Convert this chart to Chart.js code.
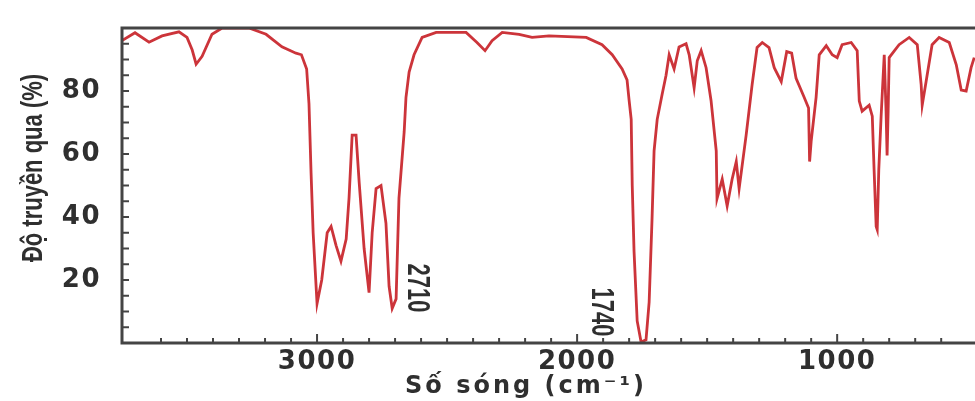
<!DOCTYPE html>
<html>
<head>
<meta charset="utf-8">
<script src="https://cdn.jsdelivr.net/npm/chart.js@4.4.1/dist/chart.umd.min.js"></script>
<style>
	html, body { margin: 0; padding: 0; background: #fff; }
</style>
</head>
<body>
<canvas id="ir" width="975" height="401"></canvas>
<script>
// IR spectrum (wavenumber in cm-1, left to right)
const wavenumbers = [
	3750, 3700, 3646, 3596, 3531, 3500, 3480, 3465, 3442, 3404, 3365, 3262, 3196, 3135, 3081,
	3060, 3040, 3031, 3023, 3015, 3000, 2982, 2961, 2946, 2927, 2908, 2888, 2877, 2865, 2850,
	2838, 2819, 2800, 2788, 2773, 2754, 2735, 2723, 2711, 2696, 2685, 2665, 2658, 2646, 2627,
	2596, 2542, 2427, 2385, 2354, 2327, 2288, 2223, 2173, 2108, 1965, 1904, 1865, 1827, 1808,
	1800, 1792, 1788, 1781, 1769, 1754, 1735, 1723, 1712, 1704, 1692, 1673, 1658, 1646, 1627,
	1608, 1581, 1569, 1550, 1538, 1523, 1504, 1485, 1465, 1462, 1442, 1423, 1404, 1388, 1377,
	1350, 1327, 1308, 1288, 1262, 1242, 1215, 1194, 1175, 1158, 1127, 1110, 1106, 1100, 1081,
	1069, 1042, 1019, 1000, 981, 946, 923, 915, 904, 877, 865, 858, 850, 846, 840,
	831, 819, 812, 808, 804, 800, 762, 723, 692, 677, 673, 658, 635, 608, 569,
	542, 523, 504, 485, 473
];
const transmittance = [
	96, 98.5, 95.5, 97.5, 98.8, 97, 93, 88.5, 91, 98, 100, 100, 98, 94, 92,
	91.5, 87, 76, 54, 35, 12.5, 20, 35, 37, 31, 26, 33, 46, 66, 66,
	51, 30, 16, 35, 49, 50, 38, 18, 11, 14, 46, 67, 78, 86, 91.5,
	97, 98.6, 98.6, 95.4, 92.8, 96, 98.6, 98, 97, 97.5, 97, 94.7, 91.5, 87, 83.5,
	77, 71, 50, 29, 7, 0.3, 1, 13, 39, 61, 71, 79, 85, 91.5, 87,
	94, 95, 91.5, 81, 89.6, 92.8, 87.4, 77, 61, 45.8, 52, 43.5, 52, 57.6, 49,
	66, 82, 93.8, 95.4, 93.8, 87.4, 83, 92.5, 92, 84, 78, 74.6, 57.6, 64, 78,
	91.5, 94.4, 91.5, 90.6, 94.7, 95.4, 92.8, 76.8, 73.6, 75.5, 72, 55, 37, 36, 55,
	72, 91.5, 73.6, 59.5, 73.6, 90.6, 94.7, 97, 94.7, 82, 75.5, 83, 94.7, 97, 95.4,
	88.3, 80.3, 80, 87.4, 90.6
];
const xTickLabels = [3000, 2000, 1000];
const yTickLabels = [20, 40, 60, 80];
const peakLabels = [2710, 1740];

const xTitle = 'Số sóng (cm⁻¹)';
const yTitle = 'Độ truyền qua (%)';

const axisColor = '#444';
const textColor = '#2f2f2f';
const lineColor = 'rgb(204,52,58)';

// the picture is stretched sideways, so text gets a little extra width
const widenText = {
	id: 'widenText',
	beforeDraw(chart) {
		chart.ctx.letterSpacing = '1.5px';
	},
	afterDraw(chart) {
		chart.ctx.letterSpacing = '0px';
	}
};

// frame, inward ticks, titles and the two peak labels
const decorations = {
	id: 'decorations',
	afterDraw(chart) {
		const ctx = chart.ctx;
		const area = chart.chartArea;
		const x = chart.scales.x;
		const y = chart.scales.y;

		ctx.save();
		ctx.letterSpacing = '0px';
		ctx.strokeStyle = axisColor;

		// tick marks pointing into the plot
		ctx.lineWidth = 2;
		x.ticks.forEach(t => {
			if (t.value % 100 !== 0) return;
			const px = x.getPixelForValue(t.value);
			const len = t.value % 1000 === 0 ? 9 : 5;
			ctx.beginPath();
			ctx.moveTo(px, area.bottom);
			ctx.lineTo(px, area.bottom - len);
			ctx.stroke();
		});
		y.ticks.forEach(t => {
			const py = y.getPixelForValue(t.value);
			ctx.beginPath();
			ctx.moveTo(area.left, py);
			ctx.lineTo(area.left + 7, py);
			ctx.stroke();
		});

		// frame (no right edge, the picture is cut there)
		ctx.lineWidth = 3;
		ctx.beginPath();
		ctx.moveTo(chart.width, area.top);
		ctx.lineTo(area.left, area.top);
		ctx.lineTo(area.left, area.bottom);
		ctx.lineTo(chart.width, area.bottom);
		ctx.stroke();

		ctx.fillStyle = textColor;

		// x title
		ctx.letterSpacing = '3px';
		ctx.font = 'bold 24px "DejaVu Sans"';
		ctx.textAlign = 'center';
		ctx.textBaseline = 'alphabetic';
		ctx.fillText(xTitle, 526, 393);
		ctx.letterSpacing = '0px';

		// y title, rotated
		ctx.save();
		ctx.translate(34, 168);
		ctx.scale(1.3, 1);
		ctx.rotate(-Math.PI / 2);
		ctx.font = 'bold 22px "Liberation Sans"';
		ctx.textAlign = 'center';
		ctx.textBaseline = 'middle';
		ctx.fillText(yTitle, 0, 0);
		ctx.restore();

		// peak labels, written downwards
		const offsets = [{ dx: 24, dy: -55 }, { dx: -44, dy: -31 }];
		peakLabels.forEach((wn, i) => {
			ctx.save();
			ctx.translate(x.getPixelForValue(wn) + offsets[i].dx, area.bottom + offsets[i].dy);
			ctx.scale(1.4, 1);
			ctx.rotate(Math.PI / 2);
			ctx.font = 'bold 22px "Liberation Sans"';
			ctx.textAlign = 'center';
			ctx.textBaseline = 'middle';
			ctx.fillText(String(wn), 0, 0);
			ctx.restore();
		});

		ctx.restore();
	}
};

const points = wavenumbers.map((wn, i) => ({ x: wn, y: transmittance[i] }));

new Chart(document.getElementById('ir'), {
	type: 'line',
	data: {
		datasets: [{
			data: points,
			borderColor: lineColor,
			borderWidth: 2.8,
			pointRadius: 0,
			tension: 0,
			fill: false
		}]
	},
	options: {
		responsive: false,
		animation: false,
		layout: { padding: { top: 28, right: 0, bottom: 0, left: 0 } },
		plugins: {
			legend: { display: false },
			tooltip: { enabled: false }
		},
		scales: {
			x: {
				type: 'linear',
				reverse: true,
				min: 470,
				max: 3750,
				grid: { display: false, drawTicks: false },
				border: { display: false },
				ticks: {
					stepSize: 100,
					autoSkip: false,
					maxRotation: 0,
					padding: 4,
					color: textColor,
					font: { family: 'DejaVu Sans', weight: 'bold', size: 26 },
					callback: v => xTickLabels.includes(v) ? String(v) : ''
				},
				afterFit: s => {
					s.height = 58;
					s.paddingLeft = 0;
					s.paddingRight = 0;
				}
			},
			y: {
				min: 0,
				max: 100,
				grid: { display: false, drawTicks: false },
				border: { display: false },
				ticks: {
					stepSize: 5,
					autoSkip: false,
					padding: 21,
					color: textColor,
					font: { family: 'DejaVu Sans', weight: 'bold', size: 26 },
					callback: v => yTickLabels.includes(v) ? String(v) : ''
				},
				afterFit: s => {
					s.width = 122;
					s.paddingTop = 0;
					s.paddingBottom = 0;
				}
			}
		}
	},
	plugins: [widenText, decorations]
});
</script>
</body>
</html>
